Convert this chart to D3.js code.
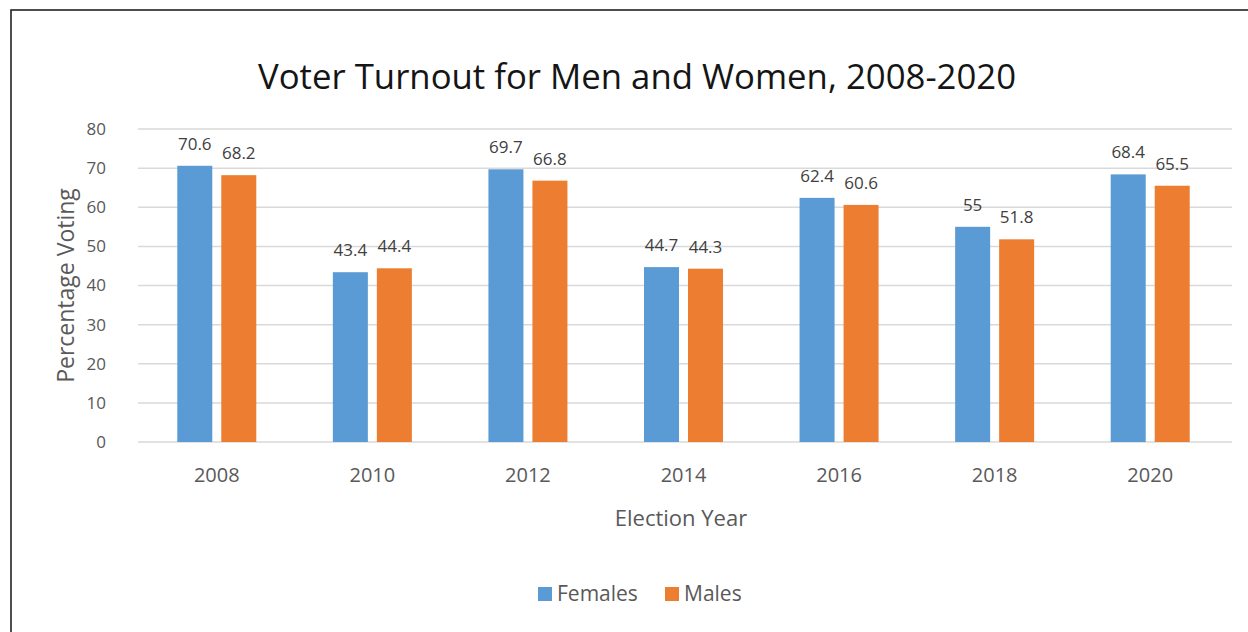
<!DOCTYPE html>
<html>
<head>
<meta charset="utf-8">
<script src="https://cdn.jsdelivr.net/npm/d3@7"></script>
<style>
  html, body { margin: 0; padding: 0; background: #fff; }
  svg { display: block; }
  text { font-family: "Open Sans", "Noto Sans", sans-serif; }
</style>
</head>
<body>
<svg id="chart" width="1248" height="632"></svg>
<script>
// Voter turnout by sex, US elections 2008-2020
const years = ["2008", "2010", "2012", "2014", "2016", "2018", "2020"];
const females = [70.6, 43.4, 69.7, 44.7, 62.4, 55, 68.4];
const males = [68.2, 44.4, 66.8, 44.3, 60.6, 51.8, 65.5];
const seriesNames = ["Females", "Males"];
const seriesColors = ["#5B9BD5", "#ED7D31"];
const yTicks = [0, 10, 20, 30, 40, 50, 60, 70, 80];

const titleText = "Voter Turnout for Men and Women, 2008-2020";
const xTitle = "Election Year";
const yTitle = "Percentage Voting";

const svg = d3.select("#chart");
const W = 1248, H = 632;

// outer frame of the chart area
svg.append("rect")
  .attr("x", 11).attr("y", 10)
  .attr("width", W + 20).attr("height", H + 20)
  .attr("fill", "#fff")
  .attr("stroke", "#222").attr("stroke-width", 1.6);

const plot = { left: 139, right: 1228, top: 129, bottom: 442 };

const x0 = d3.scaleBand().domain(years).range([plot.left, plot.right]).padding(0);
const x1 = d3.scaleBand().domain(seriesNames).range([0, x0.bandwidth()])
  .paddingInner(0.2045).paddingOuter(0.87);
const y = d3.scaleLinear().domain([0, 80]).range([plot.bottom, plot.top]);

// title
svg.append("text")
  .attr("x", 637).attr("y", 89)
  .attr("text-anchor", "middle")
  .attr("font-size", 35)
  .attr("fill", "#151515")
  .attr("textLength", 758).attr("lengthAdjust", "spacingAndGlyphs")
  .text(titleText);

// horizontal gridlines
svg.append("g").selectAll("line")
  .data(yTicks)
  .join("line")
  .attr("x1", 138).attr("x2", 1232)
  .attr("y1", d => y(d)).attr("y2", d => y(d))
  .attr("stroke", "#D9D9D9").attr("stroke-width", 1.5);

// y axis labels
const yAxis = d3.axisLeft(y).tickValues(yTicks).tickSize(0).tickPadding(0);
const gy = svg.append("g").attr("transform", "translate(106,0)").call(yAxis);
gy.select(".domain").remove();
gy.selectAll("text")
  .attr("font-family", "\"Open Sans\", sans-serif")
  .attr("font-size", 17).attr("fill", "#595959");

// x axis labels
const xAxis = d3.axisBottom(x0).tickSize(0).tickPadding(0);
const gx = svg.append("g").attr("transform", `translate(0,${plot.bottom + 26})`).call(xAxis);
gx.select(".domain").remove();
gx.selectAll("text")
  .attr("font-family", "\"Open Sans\", sans-serif")
  .attr("font-size", 20).attr("fill", "#595959");

// bars
const rows = years.map((yr, i) => ({ year: yr, values: [females[i], males[i]] }));
const groups = svg.append("g").selectAll("g")
  .data(rows)
  .join("g")
  .attr("transform", d => `translate(${x0(d.year)},0)`);

groups.selectAll("rect")
  .data(d => d.values.map((v, k) => ({ key: seriesNames[k], value: v, color: seriesColors[k] })))
  .join("rect")
  .attr("x", d => x1(d.key))
  .attr("width", x1.bandwidth())
  .attr("y", d => y(d.value))
  .attr("height", d => y(0) - y(d.value))
  .attr("fill", d => d.color);

// value labels
groups.selectAll("text.val")
  .data(d => d.values.map((v, k) => ({ key: seriesNames[k], value: v })))
  .join("text")
  .attr("class", "val")
  .attr("x", d => x1(d.key) + x1.bandwidth() / 2)
  .attr("y", d => y(d.value) - 16)
  .attr("text-anchor", "middle")
  .attr("font-size", 17)
  .attr("fill", "#404040")
  .text(d => String(d.value));

// axis titles
svg.append("text")
  .attr("x", 681).attr("y", 526)
  .attr("text-anchor", "middle")
  .attr("font-size", 22).attr("fill", "#595959")
  .text(xTitle);

svg.append("text")
  .attr("transform", `translate(74,${(plot.top + plot.bottom) / 2}) rotate(-90)`)
  .attr("text-anchor", "middle")
  .attr("font-size", 23).attr("fill", "#595959")
  .text(yTitle);

// legend
const legend = svg.append("g").attr("transform", "translate(538,587)");
const legendX = [0, 127];
seriesNames.forEach((name, k) => {
  const g = legend.append("g").attr("transform", `translate(${legendX[k]},0)`);
  g.append("rect").attr("width", 14).attr("height", 14).attr("fill", seriesColors[k]);
  g.append("text").attr("x", 19).attr("y", 14)
    .attr("font-size", 21).attr("fill", "#595959")
    .text(name);
});
</script>
</body>
</html>
